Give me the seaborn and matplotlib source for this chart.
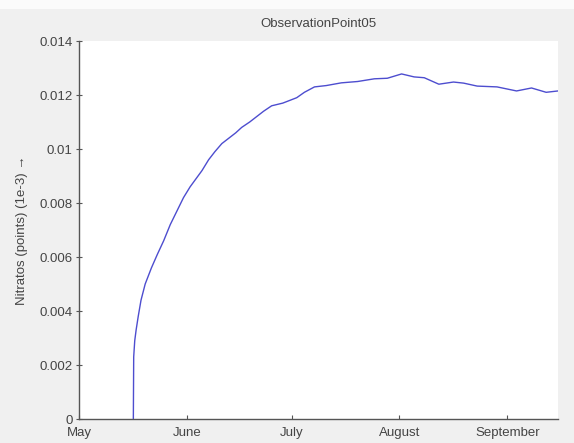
import matplotlib
matplotlib.use("Agg")
import matplotlib.pyplot as plt
import matplotlib.dates as mdates
from matplotlib.patches import Rectangle
import numpy as np
import pandas as pd
import seaborn as sns

# Nitrate concentration at ObservationPoint05 over the season
season_start = "2009-05-01"
days_after_start = [15.6, 15.7, 16.0, 16.4, 17.0, 17.8, 19.0, 20.8, 22.5, 24.3,
                    26.2, 28.1, 30.0, 31.9, 33.6, 35.3, 37.2, 39.0, 41.0, 43.0,
                    45.0, 46.7, 49.0, 51.0, 53.0, 55.3, 58.5, 62.5, 64.7, 67.6,
                    71.0, 75.3, 80.0, 84.8, 88.5, 92.6, 96.2, 99.1, 103.3, 107.5,
                    110.4, 114.3, 120.0, 125.6, 129.9, 134.1, 137.5]
nitrate = [0.0, 0.0023, 0.0029, 0.0033, 0.0038, 0.0044, 0.0050, 0.0056, 0.0061, 0.0066,
           0.0072, 0.0077, 0.0082, 0.0086, 0.0089, 0.0092, 0.0096, 0.0099, 0.0102, 0.0104,
           0.0106, 0.0108, 0.0110, 0.0112, 0.0114, 0.0116, 0.0117, 0.0119, 0.0121, 0.0123,
           0.01235, 0.01245, 0.0125, 0.0126, 0.01262, 0.01278, 0.01267, 0.01264, 0.0124, 0.01248,
           0.01244, 0.01233, 0.0123, 0.01215, 0.01226, 0.0121, 0.01215]

y_ticks = [0, 0.002, 0.004, 0.006, 0.008, 0.01, 0.012, 0.014]
y_tick_labels = ["0", "0.002", "0.004", "0.006", "0.008", "0.01", "0.012", "0.014"]
month_starts = ["2009-05-01", "2009-06-01", "2009-07-01", "2009-08-01", "2009-09-01"]
month_labels = ["May", "June", "July", "August", "September"]

t0 = pd.Timestamp(season_start)
df = pd.DataFrame({
    "time": t0 + pd.to_timedelta(days_after_start, unit="D"),
    "nitrate": nitrate,
})

sns.set_theme(style="white")
plt.rcParams["font.family"] = ["Liberation Sans", "DejaVu Sans"]
plt.rcParams["text.color"] = "#333333"

fig = plt.figure(figsize=(5.74, 4.43), dpi=100, facecolor="#f0f0f0")
# light strip along the top edge
fig.patches.append(Rectangle((0, 1 - 9 / 443), 1, 9 / 443, transform=fig.transFigure,
                             facecolor="#fbfbfb", edgecolor="none", zorder=0))
ax = fig.add_axes([79 / 574, 24 / 443, 479 / 574, 378 / 443])
ax.set_facecolor("white")

sns.lineplot(data=df, x="time", y="nitrate", ax=ax, color="#4d4dcf", linewidth=1.0)

ax.set_xlim(t0, t0 + pd.Timedelta(days=137.5))
ax.set_ylim(0, 0.014)
ax.set_yticks(y_ticks)
ax.set_yticklabels(y_tick_labels)
ax.set_xticks([mdates.date2num(pd.Timestamp(m)) for m in month_starts])
ax.set_xticklabels(month_labels)

for side in ["top", "right"]:
    ax.spines[side].set_visible(False)
for side in ["left", "bottom"]:
    ax.spines[side].set_color("#555555")
    ax.spines[side].set_linewidth(1.0)

ax.tick_params(axis="y", direction="inout", length=5, width=0.8, color="#555555",
               labelsize=9.5, labelcolor="#444444", pad=2, left=True)
ax.tick_params(axis="x", direction="in", length=3, width=0.8, color="#555555",
               labelsize=9.5, labelcolor="#444444", pad=6, bottom=True)

ax.set_title("ObservationPoint05", fontsize=9.5, color="#444444", pad=10)
ax.set_xlabel("")
ax.set_ylabel("Nitratos (points) (1e-3) \u2192", fontsize=9.5, color="#444444", labelpad=8)
ax.grid(False)

fig.savefig("out.png", dpi=100, facecolor=fig.get_facecolor())
